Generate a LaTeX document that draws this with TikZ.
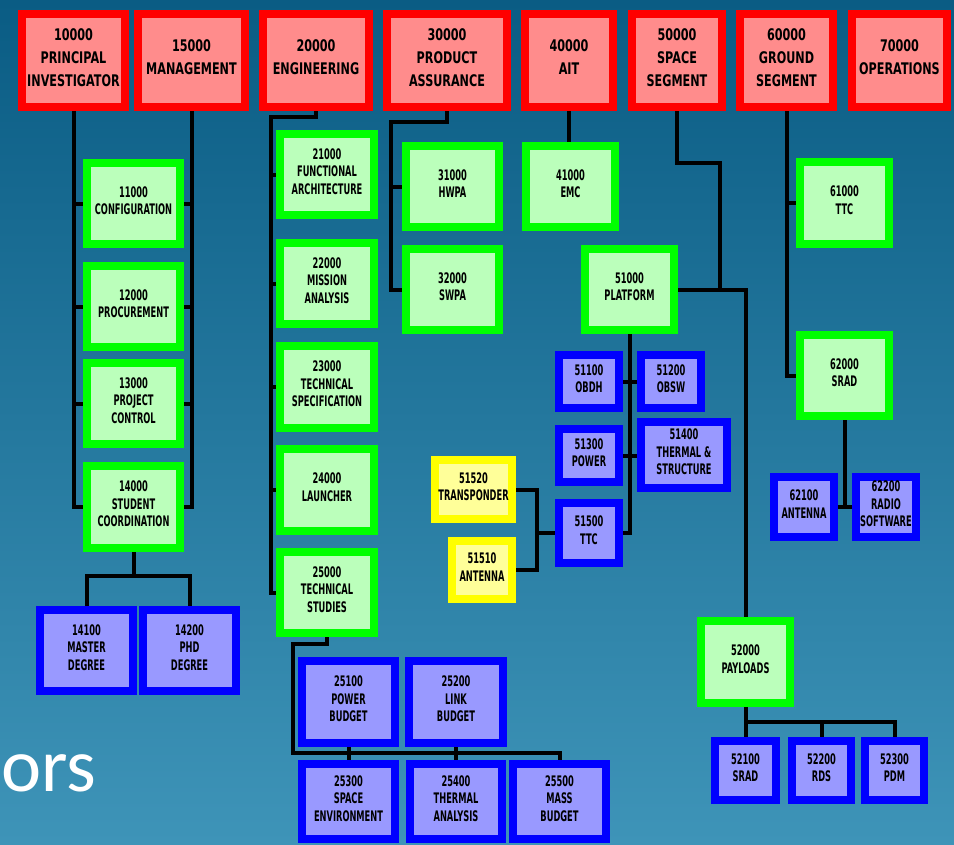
\documentclass[tikz,border=0pt]{standalone}
\usepackage{fontspec}
\newfontfamily\redf[FakeStretch=0.70]{DejaVu Sans}
\newfontfamily\smf[FakeStretch=0.57]{DejaVu Sans}
\newfontfamily\orsf{Carlito}
\definecolor{redline}{RGB}{255,0,0}
\definecolor{redfill}{RGB}{255,140,140}
\definecolor{greenline}{RGB}{0,255,0}
\definecolor{greenfill}{RGB}{187,255,187}
\definecolor{blueline}{RGB}{0,0,255}
\definecolor{bluefill}{RGB}{153,153,255}
\definecolor{yelline}{RGB}{255,255,0}
\definecolor{yelfill}{RGB}{255,255,153}
\definecolor{bgtop}{RGB}{10,92,132}
\definecolor{bgbot}{RGB}{62,148,184}
\pgfdeclarelayer{bgl}
\pgfdeclarelayer{lines}
\pgfsetlayers{bgl,lines,main}
\tikzset{
  box/.style={draw, line width=5.8pt, align=center, inner sep=0pt, text=black, text depth=4.5pt},
  redbox/.style={box, draw=redline, fill=redfill, font=\redf\bfseries\fontsize{12}{17.25}\selectfont},
  greenbox/.style={box, draw=greenline, fill=greenfill, font=\smf\bfseries\fontsize{10.9}{13.1}\selectfont},
  bluebox/.style={box, draw=blueline, fill=bluefill, font=\smf\bfseries\fontsize{10.9}{13.1}\selectfont},
  yelbox/.style={box, draw=yelline, fill=yelfill, font=\smf\bfseries\fontsize{10.9}{13.1}\selectfont},
  conn/.style={line width=3pt, draw=black}
}
\newcommand\bx[7]{%
  \pgfmathsetmacro\bw{(#5-#3-7.7)*0.75}%
  \pgfmathsetmacro\bh{(#6-#4-7.7)*0.75}%
  \node[#2, minimum width=\bw pt, minimum height=\bh pt] (#1) at ({(#3+#5)/2},{(#4+#6)/2}) {#7};}
\begin{document}
\begin{tikzpicture}[x=0.75pt,y=-0.75pt]
\useasboundingbox (0,0) rectangle (954,844);
\begin{pgfonlayer}{bgl}
  \shade[top color=bgtop, bottom color=bgbot] (0,0) rectangle (954,844);
\end{pgfonlayer}
\node[anchor=base west, inner sep=0pt, text=white, font=\orsf\fontsize{57}{62}\selectfont] (ors) at (1,791) {ors};
% top row
\bx{n10000}{redbox}{18}{10}{129}{111}{10000\\PRINCIPAL\\INVESTIGATOR}
\bx{n15000}{redbox}{134}{10}{249}{111}{15000\\MANAGEMENT}
\bx{n20000}{redbox}{259}{10}{373}{111}{20000\\ENGINEERING}
\bx{n30000}{redbox}{383}{10}{511}{111}{30000\\PRODUCT\\ASSURANCE}
\bx{n40000}{redbox}{521}{10}{617}{111}{40000\\AIT}
\bx{n50000}{redbox}{628}{10}{726}{111}{50000\\SPACE\\SEGMENT}
\bx{n60000}{redbox}{736}{10}{837}{111}{60000\\GROUND\\SEGMENT}
\bx{n70000}{redbox}{848}{10}{951}{111}{70000\\OPERATIONS}
% green level
\bx{n11000}{greenbox}{83}{159}{184}{248}{11000\\CONFIGURATION}
\bx{n12000}{greenbox}{83}{262}{184}{351}{12000\\PROCUREMENT}
\bx{n13000}{greenbox}{83}{359}{184}{448}{13000\\PROJECT\\CONTROL}
\bx{n14000}{greenbox}{83}{462}{184}{552}{14000\\STUDENT\\COORDINATION}
\bx{n21000}{greenbox}{276}{130}{378}{219}{21000\\FUNCTIONAL\\ARCHITECTURE}
\bx{n22000}{greenbox}{276}{239}{378}{328}{22000\\MISSION\\ANALYSIS}
\bx{n23000}{greenbox}{276}{342}{378}{432}{23000\\TECHNICAL\\SPECIFICATION}
\bx{n24000}{greenbox}{276}{445}{378}{535}{24000\\LAUNCHER}
\bx{n25000}{greenbox}{276}{548}{378}{637}{25000\\TECHNICAL\\STUDIES}
\bx{n31000}{greenbox}{402}{142}{503}{231}{31000\\HWPA}
\bx{n32000}{greenbox}{402}{245}{503}{334}{32000\\SWPA}
\bx{n41000}{greenbox}{522}{142}{619}{231}{41000\\EMC}
\bx{n51000}{greenbox}{581}{245}{678}{334}{51000\\PLATFORM}
\bx{n61000}{greenbox}{796}{158}{893}{248}{61000\\TTC}
\bx{n62000}{greenbox}{796}{331}{893}{420}{62000\\SRAD}
\bx{n52000}{greenbox}{697}{617}{794}{707}{52000\\PAYLOADS}
% blue level
\bx{n14100}{bluebox}{36}{606}{137}{695}{14100\\MASTER\\DEGREE}
\bx{n14200}{bluebox}{139}{606}{240}{695}{14200\\PHD\\DEGREE}
\bx{n25100}{bluebox}{298}{657}{399}{747}{25100\\POWER\\BUDGET}
\bx{n25200}{bluebox}{405}{657}{507}{747}{25200\\LINK\\BUDGET}
\bx{n25300}{bluebox}{298}{760}{399}{843}{25300\\SPACE\\ENVIRONMENT}
\bx{n25400}{bluebox}{406}{760}{506}{843}{25400\\THERMAL\\ANALYSIS}
\bx{n25500}{bluebox}{509}{760}{610}{843}{25500\\MASS\\BUDGET}
\bx{n51100}{bluebox}{555}{351}{623}{412}{51100\\OBDH}
\bx{n51200}{bluebox}{637}{351}{705}{412}{51200\\OBSW}
\bx{n51300}{bluebox}{555}{425}{623}{486}{51300\\POWER}
\bx{n51400}{bluebox}{637}{418}{731}{492}{51400\\THERMAL \&\\STRUCTURE}
\bx{n51500}{bluebox}{555}{499}{623}{567}{51500\\TTC}
\bx{n62100}{bluebox}{770}{473}{838}{541}{62100\\ANTENNA}
\bx{n62200}{bluebox}{852}{473}{920}{541}{62200\\RADIO\\SOFTWARE}
\bx{n52100}{bluebox}{711}{737}{780}{804}{52100\\SRAD}
\bx{n52200}{bluebox}{788}{737}{855}{804}{52200\\RDS}
\bx{n52300}{bluebox}{861}{737}{928}{804}{52300\\PDM}
% yellow
\bx{n51520}{yelbox}{431}{456}{516}{523}{51520\\TRANSPONDER}
\bx{n51510}{yelbox}{448}{537}{516}{603}{51510\\ANTENNA}
% junction coordinates
\coordinate (e1) at (271,117);
\coordinate (p1) at (391,122);
\coordinate (s1) at (720,163);
\coordinate (t1) at (537,533);
\coordinate (m1) at (133.5,576);
\coordinate (q1) at (293,644);
\coordinate (q2) at (293,753);
\coordinate (r1) at (745.5,722);
\begin{pgfonlayer}{lines}
  % 10000 and 15000
  \foreach \n in {n11000,n12000,n13000,n14000}{
    \draw[conn] (n10000.south) |- (\n.west);
    \draw[conn] (n15000.south) |- (\n.east);
  }
  % 20000
  \draw[conn] (n20000.south) |- (e1) |- (n25000.west);
  \foreach \n in {n21000,n22000,n23000,n24000}{
    \draw[conn] (e1) |- (\n.west);
  }
  % 30000
  \draw[conn] (n30000.south) |- (p1) |- (n32000.west);
  \draw[conn] (p1) |- (n31000.west);
  % 40000
  \draw[conn] (n40000.south) -- (n40000.south |- n41000.north);
  % 50000
  \draw[conn] (n50000.south) |- (s1) |- (n51000.east);
  \draw[conn] (n51000.east) -| (n52000.north);
  \draw[conn] (n51000.south) |- (n51500.east);
  \draw[conn] (n51100.east) -- (n51200.west);
  \draw[conn] (n51300.east) -- (n51300.east -| n51400.west);
  \draw[conn] (n51520.east) -| (t1) |- (n51510.east);
  \draw[conn] (t1) -- (n51500.west);
  \draw[conn] (n52000.south) -- (n52100.north);
  \draw[conn] (r1) -| (n52200.north);
  \draw[conn] (r1) -| (n52300.north);
  % 60000
  \draw[conn] (n60000.south) |- (n61000.west);
  \draw[conn] (n60000.south) |- (n62000.west);
  \draw[conn] (n62000.south) -- (n62000.south |- n62100.east);
  \draw[conn] (n62100.east) -- (n62200.west);
  % 14000
  \draw[conn] (n14000.south) -- (m1);
  \draw[conn] (n14100.north) |- (m1) -| (n14200.north);
  % 25000
  \draw[conn] (n25000.south) |- (q1) -- (q2) -| (n25500.north);
  \draw[conn] (n25100.south) -- (n25300.north);
  \draw[conn] (n25200.south) -- (n25200.south |- n25400.north);
\end{pgfonlayer}
\end{tikzpicture}
\end{document}
